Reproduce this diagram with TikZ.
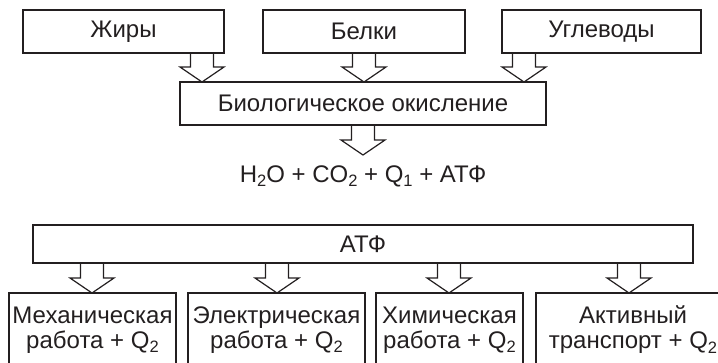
\documentclass[tikz,border=0pt]{standalone}
\usepackage{fontspec}
\setmainfont{Liberation Sans}
\usetikzlibrary{calc}
\definecolor{ink}{HTML}{231F20}
\newcommand\lowi[1]{\raisebox{-4.5pt}{\fontsize{16.5}{16.5}\selectfont #1}}
\newcommand\blockarrow[3]{%
  \draw[blk] let \p1=(#1), \p2=(#2), \p3=(#3) in
    (\x1-11.5pt,\y2) -- (\x1-11.5pt,\y3+15pt) -- (\x1-22pt,\y3+15pt) -- (\x1,\y3)
    -- (\x1+22pt,\y3+15pt) -- (\x1+11.5pt,\y3+15pt) -- (\x1+11.5pt,\y2);}
\begin{document}
\begin{tikzpicture}[x=1pt,y=-1pt,
  box/.style={draw=ink, line width=1.2pt, inner sep=0pt, outer sep=0pt,
    font=\fontsize{24}{25}\selectfont, text=ink, align=center},
  blk/.style={draw=ink, line width=1.2pt, line join=miter}]
\useasboundingbox (0,0) rectangle (718,362);
\clip (0,0) rectangle (718,362);
% top row
\node[box, minimum width=201pt, minimum height=43pt] (zhiry) at (123.5,31.5) {Жиры};
\node[box, minimum width=202pt, minimum height=43pt] (belki) at (364,31.5) {Белки};
\node[box, minimum width=199pt, minimum height=43pt] (ugl) at (601.5,31.5) {Углеводы};
\node[box, minimum width=366pt, minimum height=43pt] (bio) at (363,103.5) {Биологическое окисление};
\node[font=\fontsize{24}{25}\selectfont, text=ink, inner sep=0pt, anchor=base] (prod) at (363,182)
  {H\lowi{2}O + CO\lowi{2} + Q\lowi{1} + АТФ};
\coordinate (ftip) at (363,155);
% ATP and bottom row
\node[box, minimum width=660pt, minimum height=38pt] (atf) at (363,244) {АТФ};
\node[box, minimum width=167pt, minimum height=74pt] (mech) at (92.5,330) {Механическая\\работа + Q\lowi{2}};
\node[box, minimum width=177pt, minimum height=74pt] (elec) at (276.5,330) {Электрическая\\работа + Q\lowi{2}};
\node[box, minimum width=147pt, minimum height=74pt] (chem) at (449.5,330) {Химическая\\работа + Q\lowi{2}};
\node[box, minimum width=194pt, minimum height=74pt] (trans) at (633,330) {Активный\\транспорт + Q\lowi{2}};
% arrow positions
\coordinate (a1) at (202,0);
\coordinate (a2) at (364,0);
\coordinate (a3) at (524,0);
\coordinate (a4) at (363,0);
\coordinate (b1) at (92,0);
\coordinate (b2) at (277,0);
\coordinate (b3) at (449,0);
\coordinate (b4) at (629,0);
\blockarrow{a1}{zhiry.south}{bio.north}
\blockarrow{a2}{belki.south}{bio.north}
\blockarrow{a3}{ugl.south}{bio.north}
\blockarrow{a4}{bio.south}{ftip}
\blockarrow{b1}{atf.south}{mech.north}
\blockarrow{b2}{atf.south}{elec.north}
\blockarrow{b3}{atf.south}{chem.north}
\blockarrow{b4}{atf.south}{trans.north}
\end{tikzpicture}
\end{document}
